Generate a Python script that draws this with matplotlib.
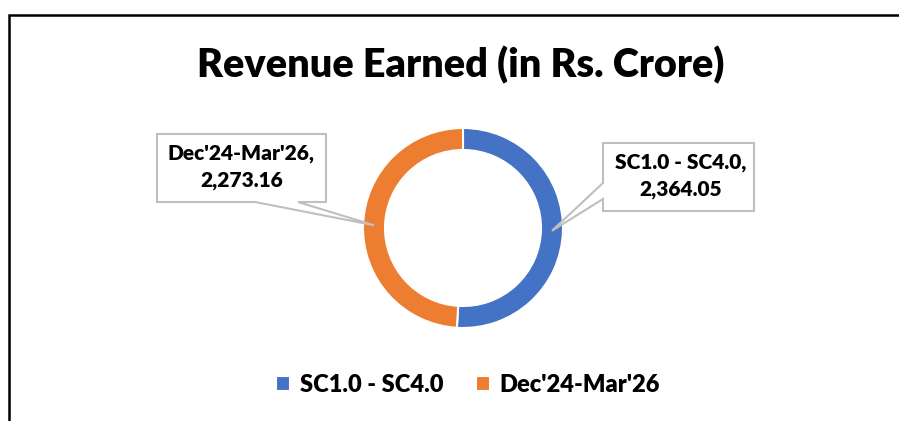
import matplotlib
matplotlib.use("Agg")
import matplotlib.pyplot as plt
from matplotlib.patches import Polygon, Rectangle
import numpy as np

plt.rcParams['font.family'] = ['Lato', 'DejaVu Sans']

# data
categories = ['SC1.0 - SC4.0', "Dec'24-Mar'26"]
revenue = [2364.05, 2273.16]
colors = ['#4472C4', '#ED7D31']
title = 'Revenue Earned (in Rs. Crore)'

fig = plt.figure(figsize=(8.99, 4.21), dpi=100)
ax = fig.add_axes([0, 0, 1, 1])

wedges, _ = ax.pie(revenue, colors=colors, startangle=90, counterclock=False,
                   radius=1.0, wedgeprops=dict(width=0.22, edgecolor='white', linewidth=1.5))

# 1 data unit = 100 px, pie centre at (463, 228) px
ax.set_xlim(-4.63, 4.36)
ax.set_ylim(-1.93, 2.28)
ax.set_aspect('equal')
ax.axis('off')

# frame (left + top visible, rest clipped)
fig.patches.append(Rectangle((9 / 899, -0.1), 1.2, (421 - 15) / 421 + 0.1,
                             transform=fig.transFigure, fill=False,
                             edgecolor='black', linewidth=1.8))

ax.text(-0.02, 1.63, title, ha='center', va='center', fontsize=28.5, fontweight='heavy')

# callouts: box + pointer to middle of each ring segment
def anchor(w):
    ang = np.deg2rad((w.theta1 + w.theta2) / 2)
    return 0.89 * np.cos(ang), 0.89 * np.sin(ang)

# SC1.0 label (pointer from left side)
tx, ty = anchor(wedges[0])
x0, x1, y0, y1 = 1.40, 2.91, 0.17, 0.85
pts = [(x0, y1), (x1, y1), (x1, y0), (x0, y0), (x0, 0.29), (tx, ty), (x0, 0.45)]
ax.add_patch(Polygon(pts, closed=True, facecolor='white', edgecolor='#BFBFBF', linewidth=1.5, zorder=3))
ax.text((x0 + x1) / 2 + 0.02, (y0 + y1) / 2 + 0.01, f"{categories[0]},\n{revenue[0]:,.2f}",
        ha='center', va='center', fontsize=15, fontweight='heavy', linespacing=1.45, zorder=4)

# Dec'24 label (pointer from bottom side)
tx, ty = anchor(wedges[1])
x0, x1, y0, y1 = -3.06, -1.37, 0.26, 0.94
pts = [(x0, y1), (x1, y1), (x1, y0), (-1.65, y0), (tx, ty), (-2.08, y0), (x0, y0)]
ax.add_patch(Polygon(pts, closed=True, facecolor='white', edgecolor='#BFBFBF', linewidth=1.5, zorder=3))
ax.text((x0 + x1) / 2, (y0 + y1) / 2 + 0.01, f"{categories[1]},\n{revenue[1]:,.2f}",
        ha='center', va='center', fontsize=15, fontweight='heavy', linespacing=1.45, zorder=4)

leg = ax.legend(wedges, categories, loc='center', bbox_to_anchor=(468 / 899, 36 / 421),
                bbox_transform=fig.transFigure, ncol=2, frameon=False,
                prop=dict(size=17, weight='heavy'), handlelength=0.6, handleheight=0.6,
                handletextpad=0.4, columnspacing=1.4)

fig.savefig('out.png', dpi=100, facecolor='white')
